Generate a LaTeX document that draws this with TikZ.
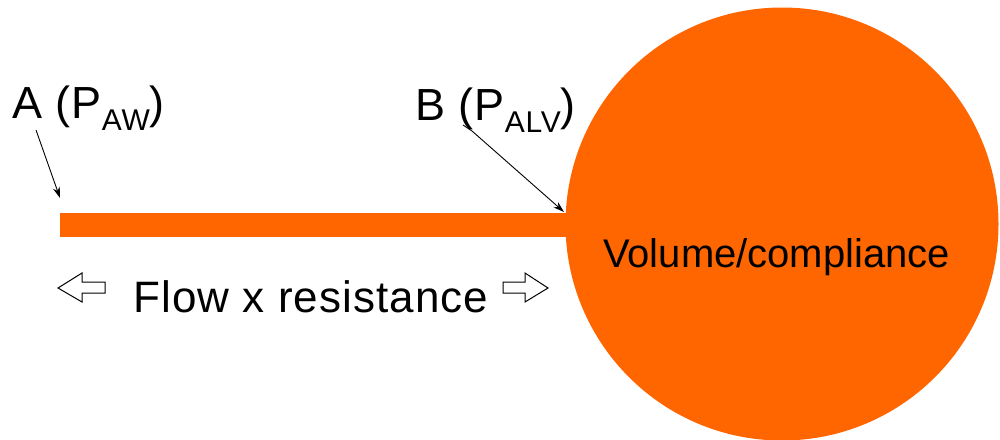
\documentclass[tikz,border=0pt]{standalone}
\usepackage{fontspec}
\setmainfont{Liberation Sans}
\newfontfamily\widesans{Liberation Sans}[LetterSpace=2.5]
\usetikzlibrary{arrows.meta}
\definecolor{lungorange}{HTML}{FF6600}
\begin{document}
\begin{tikzpicture}[x=1pt,y=-1pt,
  lbl/.style={inner sep=0pt,anchor=base west,font=\widesans\fontsize{45}{50}\selectfont},
  pointer/.style={line width=0.9pt,-{Stealth[length=11pt,width=7pt]}},
  hollow/.style={line width=1pt,draw=black,fill=white,line join=miter}]
\useasboundingbox (0,0) rectangle (1000,439);

% alveolus (compliance) and airway (resistance)
\node[circle,fill=lungorange,minimum size=433pt,inner sep=0pt] (alv) at (782,224) {};
\node[rectangle,fill=lungorange,inner sep=0pt,minimum width=510pt,minimum height=24pt,anchor=north west] (airway) at (60,213) {};

% pressure labels
\newcommand{\subtxt}[1]{\raisebox{-12pt}{\fontsize{30}{30}\selectfont #1}}
\node[lbl] (lblA) at (12,118) {A (P\subtxt{AW})};
\node[lbl] (lblB) at (415,120) {B (P\subtxt{ALV})};

% pointers to the two ends of the airway
\coordinate (fromA) at (36,130);
\coordinate (toA) at ([yshift=15pt]airway.north west);
\coordinate (fromB) at (463,125);
\coordinate (bendB) at (472,131);
\coordinate (toB) at (564,212);
\draw[pointer] (fromA) -- (toA);
\draw[pointer] (fromB) -- (bendB) -- (toB);

% flow label with hollow block arrows
\node[lbl,font=\widesans\fontsize{44}{50}\selectfont] (flow) at (133,312) {Flow x resistance};
\draw[hollow] (58,288) -- (82,273) -- (82,282) -- (105,282) -- (105,293) -- (82,293) -- (82,302) -- cycle;
\draw[hollow] (548,288) -- (525,273) -- (525,282) -- (503,282) -- (503,293) -- (525,293) -- (525,302) -- cycle;

% volume label inside the alveolus
\node[inner sep=0pt,anchor=base west,font=\fontsize{40}{46}\selectfont] (vol) at (603,267) {Volume/compliance};
\end{tikzpicture}
\end{document}
